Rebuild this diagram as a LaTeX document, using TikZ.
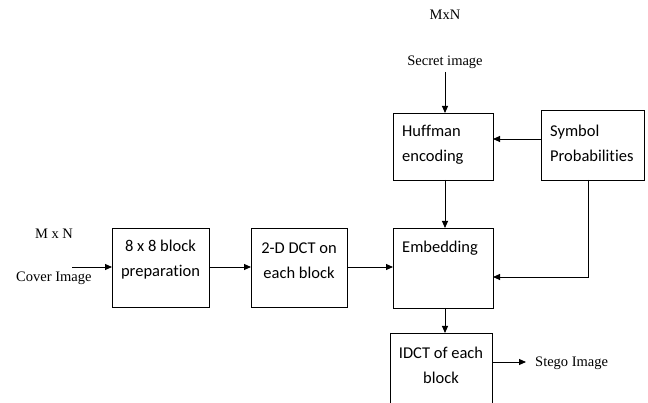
\documentclass[tikz,border=0pt]{standalone}
\usepackage{fontspec}
\setmainfont{Liberation Serif}
\newfontfamily\boxfont[Ligatures={NoCommon}]{Carlito}
\usetikzlibrary{arrows.meta}
\begin{document}
\begin{tikzpicture}[x=1pt,y=-1pt,
  blk/.style={draw,line width=0.9pt,inner sep=0pt},
  boxtxt/.style={font=\boxfont\fontsize{16.5}{25}\selectfont,align=center,inner sep=0pt},
  lbl/.style={font=\fontsize{14.5}{16}\selectfont,inner sep=0pt},
  arr/.style={line width=0.9pt,-{Triangle[length=7pt,width=6pt]}},
  ln/.style={line width=0.9pt}]
\useasboundingbox (0,0) rectangle (648,403);
% boxes
\draw[blk] (112,228) rectangle (209,307) coordinate (b1br);
\coordinate (b1w) at (112,267); \coordinate (b1e) at (209,267);
\node[boxtxt] (t1) at (160.5,260) {8 x 8 block\\preparation};
\draw[blk] (251,228) rectangle (347,307);
\coordinate (b2w) at (251,267); \coordinate (b2e) at (347,267);
\node[boxtxt] (t2) at (299,261) {2-D DCT on\\each block};
\draw[blk] (393,228) rectangle (493,308);
\coordinate (emw) at (393,267); \coordinate (emn) at (445,228); \coordinate (eme) at (493,277); \coordinate (ems) at (445,308);
\node[boxtxt,anchor=west] (t3) at (402,248) {Embedding};
\draw[blk] (393,113) rectangle (493,180);
\coordinate (hfn) at (445,113); \coordinate (hfs) at (445,180); \coordinate (hfe) at (493,139);
\node[boxtxt,anchor=west,align=left] (t4) at (402,145) {Huffman\\encoding};
\draw[blk] (541,110) rectangle (644,180);
\coordinate (syw) at (541,139); \coordinate (sys) at (588,180); \coordinate (corner) at (588,277);
\node[boxtxt,anchor=west,align=left] (t5) at (550,143) {Symbol\\Probabilities};
\draw[blk] (390,333) -- (390,404) (390,333) -- (492,333) -- (492,404);
\coordinate (idn) at (445,333); \coordinate (ide) at (492,362);
\node[boxtxt] (t6) at (441,365) {IDCT of each\\block};
% labels
\node[lbl] (mn1) at (54,234) {M x N};
\node[lbl,anchor=west] (cov) at (16,278) {Cover Image};
\coordinate (covs) at (72,267);
\node[lbl] (mn2) at (445,15) {MxN};
\node[lbl] (sec) at (445,62) {Secret image};
\coordinate (secs) at (445,72);
\node[lbl,anchor=west] (steg) at (535,363) {Stego Image};
\coordinate (stegs) at (526,362);
% connectors
\draw[arr] (covs) -- (b1w);
\draw[arr] (b1e) -- (b2w);
\draw[arr] (b2e) -- (emw);
\draw[arr] (secs) -- (hfn);
\draw[arr] (syw) -- (hfe);
\draw[arr] (hfs) -- (emn);
\draw[arr] (sys) -- (corner) -- (eme);
\draw[arr] (ems) -- (idn);
\draw[arr] (ide) -- (stegs);
\end{tikzpicture}
\end{document}
